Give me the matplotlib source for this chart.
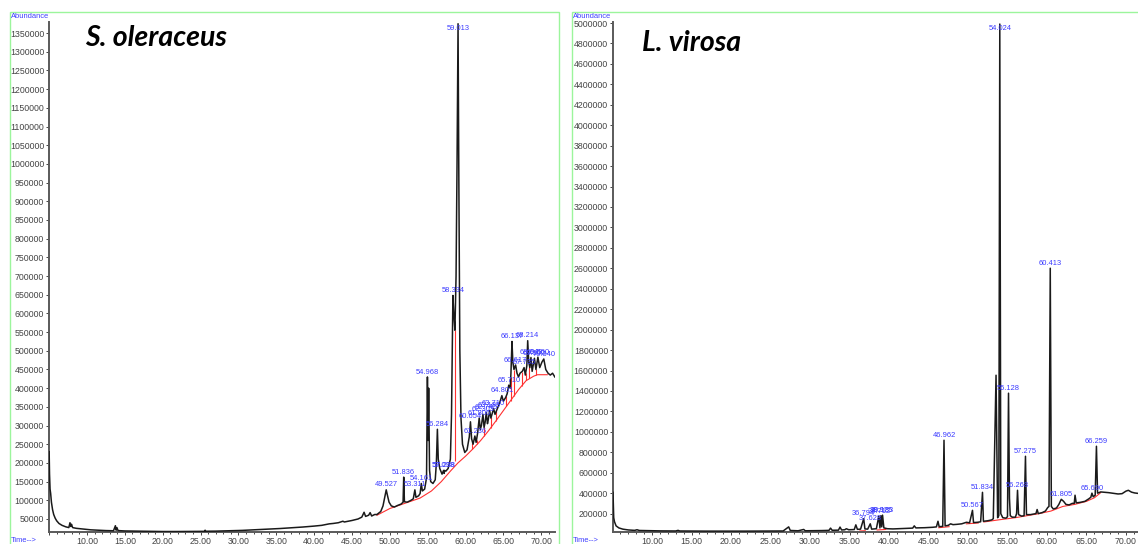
import numpy as np
import matplotlib
matplotlib.use("Agg")
import matplotlib.pyplot as plt
from matplotlib.patches import Rectangle
from matplotlib.ticker import MultipleLocator, FuncFormatter

nan = np.nan

# ---- S. oleraceus : TIC trace (time min, abundance) ----
left_t = [5.00, 5.05, 5.12, 5.2, 5.3, 5.45, 5.6, 5.8, 6.0, 6.3, 6.7, 7.2, 7.6, 7.75, 7.85, 7.95, 8.1,
          8.6, 9.5, 10.5, 11.5, 12.5, 13.5, 13.75, 13.85, 13.95, 14.1, 15.0, 16.5, 18.0, 20.0, 22.0,
          24.0, 25.5, 25.6, 25.7, 27.0, 29.0, 30.5, 32.0, 34.0, 35.5, 37.0, 38.5, 40.0, 41.0, 42.0,
          42.5, 43.2, 43.8, 44.0, 45.0, 45.8, 46.3, 46.6, 46.8, 47.2, 47.4, 47.6, 48.0, 48.3,
          48.8, 49.1, 49.35, 49.527, 49.7, 49.9, 50.2, 50.6, 51.0, 51.5, 51.75, 51.836, 51.93, 52.3,
          52.8, 53.1, 53.311, 53.45, 53.8, 54.0, 54.161, 54.3, 54.6, 54.85, 54.968, 55.05, 55.13,
          55.25, 55.4, 55.7, 56.0, 56.15, 56.284, 56.4, 56.6, 56.9, 57.098, 57.18, 57.238, 57.4,
          57.7, 58.0, 58.15, 58.334, 58.45, 58.6, 58.75, 58.88, 59.013, 59.12, 59.25, 59.4, 59.6,
          59.9, 60.2, 60.5, 60.654, 60.8, 61.0, 61.236, 61.4, 61.6, 61.806, 61.95, 62.1, 62.303,
          62.45, 62.6, 62.745, 62.9, 63.0, 63.185, 63.35, 63.5, 63.71, 63.9, 64.2, 64.5, 64.801,
          65.0, 65.3, 65.5, 65.71, 65.9, 66.0, 66.137, 66.25, 66.4, 66.617, 66.8, 67.0, 67.2, 67.5,
          67.735, 67.9, 68.1, 68.214, 68.35, 68.5, 68.643, 68.8, 69.102, 69.3, 69.56, 69.8, 70.1,
          70.34, 70.6, 70.9, 71.2, 71.5, 71.8]
left_v = [230000, 170000, 130000, 118000, 95000, 75000, 62000, 52000, 45000, 38000, 33000, 29000,
          27000, 40000, 30000, 36000, 27000, 25000, 23000, 21000, 20000, 19000, 18500, 32000, 20000,
          27000, 19000, 18000, 17500, 17000, 16500, 16500, 16800, 17000, 20000, 17200, 17500, 18500,
          19500, 21000, 23000, 24500, 26500, 28500, 31000, 33000, 37000, 38000, 40000, 44000, 42000,
          46000, 50000, 55000, 68000, 57000, 60000, 67000, 58000, 62000, 62000,
          70000, 85000, 110000, 128000, 112000, 95000, 85000, 82000, 86000, 90000, 95000, 162000,
          96000, 95000, 100000, 104000, 128000, 108000, 112000, 118000, 145000, 125000, 130000,
          160000, 430000, 260000, 400000, 180000, 150000, 145000, 155000, 200000, 290000, 210000,
          185000, 170000, 180000, 172000, 180000, 178000, 185000, 210000, 330000, 648000, 600000,
          555000, 700000, 1000000, 1375000, 950000, 500000, 320000, 250000, 228000, 235000, 270000,
          310000, 265000, 250000, 272000, 255000, 280000, 320000, 290000, 300000, 330000, 295000,
          310000, 335000, 305000, 315000, 340000, 320000, 330000, 345000, 330000, 345000, 360000,
          380000, 365000, 375000, 385000, 408000, 400000, 440000, 525000, 470000, 450000, 462000,
          440000, 430000, 440000, 445000, 455000, 435000, 460000, 527000, 470000, 455000, 482000,
          445000, 480000, 450000, 483000, 455000, 470000, 478000, 450000, 440000, 435000, 440000,
          430000]

left_peak_t = [49.527, 51.836, 53.311, 54.161, 54.968, 56.284, 57.098, 57.238, 58.334, 59.013,
               60.654, 61.236, 61.806, 62.303, 62.745, 63.185, 63.710, 64.801, 65.710, 66.137,
               66.617, 67.735, 68.214, 68.643, 69.102, 69.560, 70.340]
left_peak_v = [128000, 162000, 128000, 145000, 430000, 290000, 180000, 180000, 648000, 1375000,
               310000, 272000, 320000, 330000, 335000, 340000, 345000, 380000, 408000, 525000,
               462000, 455000, 527000, 482000, 480000, 483000, 478000]

left_base_t = [48.3, 50.0, 52.0, 54.0, 55.5, 56.8, 58.0, 59.0, 60.0, 61.0, 62.0, 63.0, 64.0,
               65.0, 66.0, 67.0, 68.0, 69.0, 69.5, 70.8]
left_base_v = [60000, 78000, 92000, 106000, 125000, 150000, 178000, 200000, 218000, 238000,
               260000, 285000, 312000, 340000, 368000, 396000, 420000, 432000, 436000, 436000]

left_drop_t = [58.6, 60.9, 61.5, 62.5, 63.3, 64.0, 65.4, 65.95, 66.45, 67.4, 67.95, 68.45, 69.3]
left_drop_lo = [205000, 236000, 250000, 272000, 293000, 312000, 351000, 367000, 380000, 407000,
                421000, 428000, 434000]
left_drop_hi = [555000, 252000, 262000, 296000, 322000, 338000, 380000, 430000, 448000, 443000,
                440000, 457000, 452000]

# ---- L. virosa ----
right_t = [5.06, 5.1, 5.15, 5.25, 5.45, 5.8, 6.3, 7.0, 7.8, 8.1, 8.4, 9.5, 11.0, 13.0, 13.3, 13.5,
           15.0, 17.0, 20.0, 22.0, 24.0, 25.5, 26.6, 27.3, 27.5, 28.5, 29.2, 29.4, 30.5, 31.5, 32.4,
           32.6, 32.8, 33.6, 33.8, 34.0, 34.4, 34.6, 34.9, 35.6, 35.8, 36.0, 36.4, 36.794, 36.95,
           37.3, 37.628, 37.8, 38.4, 38.712, 38.85, 38.975, 39.08, 39.183, 39.35, 39.8, 40.5, 41.5,
           42.5, 43.0, 43.2, 43.4, 44.5, 45.5, 46.0, 46.2, 46.35, 46.8, 46.962, 47.1, 47.5, 47.8,
           48.1, 48.6, 49.2, 49.8, 50.2, 50.567, 50.7, 51.2, 51.6, 51.834, 51.95, 52.5, 53.0, 53.2,
           53.55, 53.75, 53.9, 54.024, 54.15, 54.4, 54.8, 55.0, 55.128, 55.25, 55.35, 55.6, 56.0,
           56.15, 56.268, 56.4, 56.8, 57.1, 57.275, 57.4, 57.9, 58.6, 58.75, 58.9, 59.4, 59.8, 60.1,
           60.25, 60.413, 60.55, 60.8, 61.2, 61.5, 61.805, 62.1, 62.4, 62.8, 63.2, 63.45, 63.55,
           63.7, 64.2, 64.8, 65.3, 65.55, 65.69, 65.85, 66.1, 66.259, 66.4, 66.8, 67.3, 67.8, 68.4,
           69.0, 69.5, 70.0, 70.3, 70.7, 71.1, 71.52]
right_v = [408000, 300000, 160000, 120000, 80000, 60000, 48000, 40000, 36000, 42000, 35000, 33000,
           31000, 30000, 36000, 30000, 29000, 28500, 28000, 28500, 29000, 30000, 30000, 70000, 35000,
           32000, 45000, 32000, 33000, 34000, 36000, 58000, 37000, 38000, 68000, 40000, 42000, 52000,
           42000, 44000, 90000, 46000, 48000, 150000, 50000, 48000, 100000, 48000, 52000, 175000,
           60000, 180000, 70000, 185000, 60000, 52000, 50000, 53000, 55000, 58000, 80000, 60000,
           62000, 66000, 70000, 125000, 72000, 75000, 918000, 80000, 85000, 100000, 92000, 95000,
           100000, 115000, 110000, 232000, 112000, 115000, 120000, 408000, 125000, 130000, 138000,
           150000, 1554000, 160000, 180000, 4990000, 200000, 160000, 155000, 170000, 1378000,
           350000, 180000, 165000, 165000, 200000, 428000, 190000, 175000, 180000, 761000, 190000,
           190000, 200000, 240000, 200000, 210000, 225000, 260000, 270000, 2601000, 270000, 245000,
           255000, 290000, 340000, 320000, 290000, 285000, 300000, 300000, 380000, 305000, 310000,
           320000, 345000, 360000, 400000, 365000, 380000, 859000, 400000, 412000, 408000, 405000,
           398000, 392000, 395000, 420000, 428000, 410000, 402000, 398000]

right_peak_t = [36.794, 37.628, 38.712, 38.975, 39.183, 46.962, 50.567, 51.834, 54.024, 55.128,
                56.268, 57.275, 60.413, 61.805, 65.690, 66.259]
right_peak_v = [150000, 100000, 175000, 180000, 185000, 918000, 232000, 408000, 4990000, 1378000,
                428000, 761000, 2601000, 340000, 400000, 859000]

right_base_t = [36.3, 37.0, nan, 38.5, 39.6, nan, 46.3, 47.6, nan, 49.8, 51.3, nan, 52.0, 54.0,
                56.0, 57.5, 59.0, 60.5, 62.0, 63.5, 65.0, 66.0, 66.8]
right_base_v = [30000, 32000, nan, 40000, 45000, nan, 62000, 72000, nan, 100000, 108000, nan,
                118000, 140000, 160000, 180000, 200000, 225000, 270000, 290000, 320000, 355000,
                405000]

W, H = 1138, 544
BLUE = "#3b3bff"
GREEN = "#9cf59c"

fig = plt.figure(figsize=(W / 100, H / 100), dpi=100)
fig.patch.set_facecolor("white")


def px_axes(x0, x1, ytop, ybot):
    return fig.add_axes([x0 / W, 1 - ybot / H, (x1 - x0) / W, (ybot - ytop) / H])


def style_axes(ax, xlim, ylim, ystep):
    ax.set_xlim(*xlim)
    ax.set_ylim(*ylim)
    for s in ("top", "right"):
        ax.spines[s].set_visible(False)
    for s in ("left", "bottom"):
        ax.spines[s].set_color("#5a5a5a")
        ax.spines[s].set_linewidth(1.4)
    ax.xaxis.set_major_locator(MultipleLocator(5))
    ax.xaxis.set_minor_locator(MultipleLocator(1))
    ax.yaxis.set_major_locator(MultipleLocator(ystep))
    ax.xaxis.set_major_formatter(FuncFormatter(lambda v, p: "%.2f" % v if v >= 10 else ""))
    ax.yaxis.set_major_formatter(FuncFormatter(lambda v, p: "%d" % v if v >= ystep else ""))
    ax.tick_params(which="both", direction="out", colors="#444444", labelsize=6.3, pad=1,
                   width=0.7)
    ax.tick_params(which="major", length=2.5)
    ax.tick_params(which="minor", length=1.5)
    for lab in ax.get_xticklabels() + ax.get_yticklabels():
        lab.set_family("Liberation Sans")
    ax.patch.set_alpha(0)


def draw(ax, t, v, bt, bv, pt, pv, top):
    ax.plot(bt, bv, color="#ff3030", lw=0.8, zorder=2)
    ax.plot(t, v, color="#1a1a1a", lw=1.1, zorder=3)
    for tt, vv in zip(pt, pv):
        if vv > 0.97 * top:
            off, va = -1, "top"
        else:
            off, va = 1, "bottom"
        ax.annotate("%.3f" % tt, (tt, vv), xytext=(0, off), textcoords="offset points",
                    ha="center", va=va, fontsize=5.4, color=BLUE, family="Liberation Sans",
                    zorder=4)


# left panel
axl = px_axes(49, 555, 22, 532)
style_axes(axl, (4.98, 71.82), (15200, 1379600), 50000)
draw(axl, left_t, left_v, left_base_t, left_base_v, left_peak_t, left_peak_v, 1379600)
axl.vlines(left_drop_t, left_drop_lo, left_drop_hi, colors="#ff3030", lw=0.8, zorder=2)

# right panel
axr = px_axes(613, 1138, 22, 532)
style_axes(axr, (5.06, 71.52), (20000, 5010000), 200000)
draw(axr, right_t, right_v, right_base_t, right_base_v, right_peak_t, right_peak_v, 5010000)

# green frames
for x0, w in ((10, 549), (572, 600)):
    fig.add_artist(Rectangle((x0 / W, -0.1), w / W, 0.1 + (H - 12) / H, transform=fig.transFigure,
                             fill=False, edgecolor=GREEN, lw=1.0))

for x0 in (11, 573):
    fig.text(x0 / W, 1 - 17 / H, "Abundance", color=BLUE, fontsize=5.4,
             family="Liberation Sans", va="center", ha="left")
    fig.text(x0 / W, 1 - 540 / H, "Time-->", color=BLUE, fontsize=5.4,
             family="Liberation Sans", va="center", ha="left")

fig.text(85 / W, 1 - 38 / H, "S. oleraceus", fontsize=20.5, weight="bold", style="italic",
         family="Lato", va="center", ha="left")
fig.text(642 / W, 1 - 43 / H, "L. virosa", fontsize=20.5, weight="bold", style="italic",
         family="Lato", va="center", ha="left")

fig.savefig("out.png", dpi=100)
